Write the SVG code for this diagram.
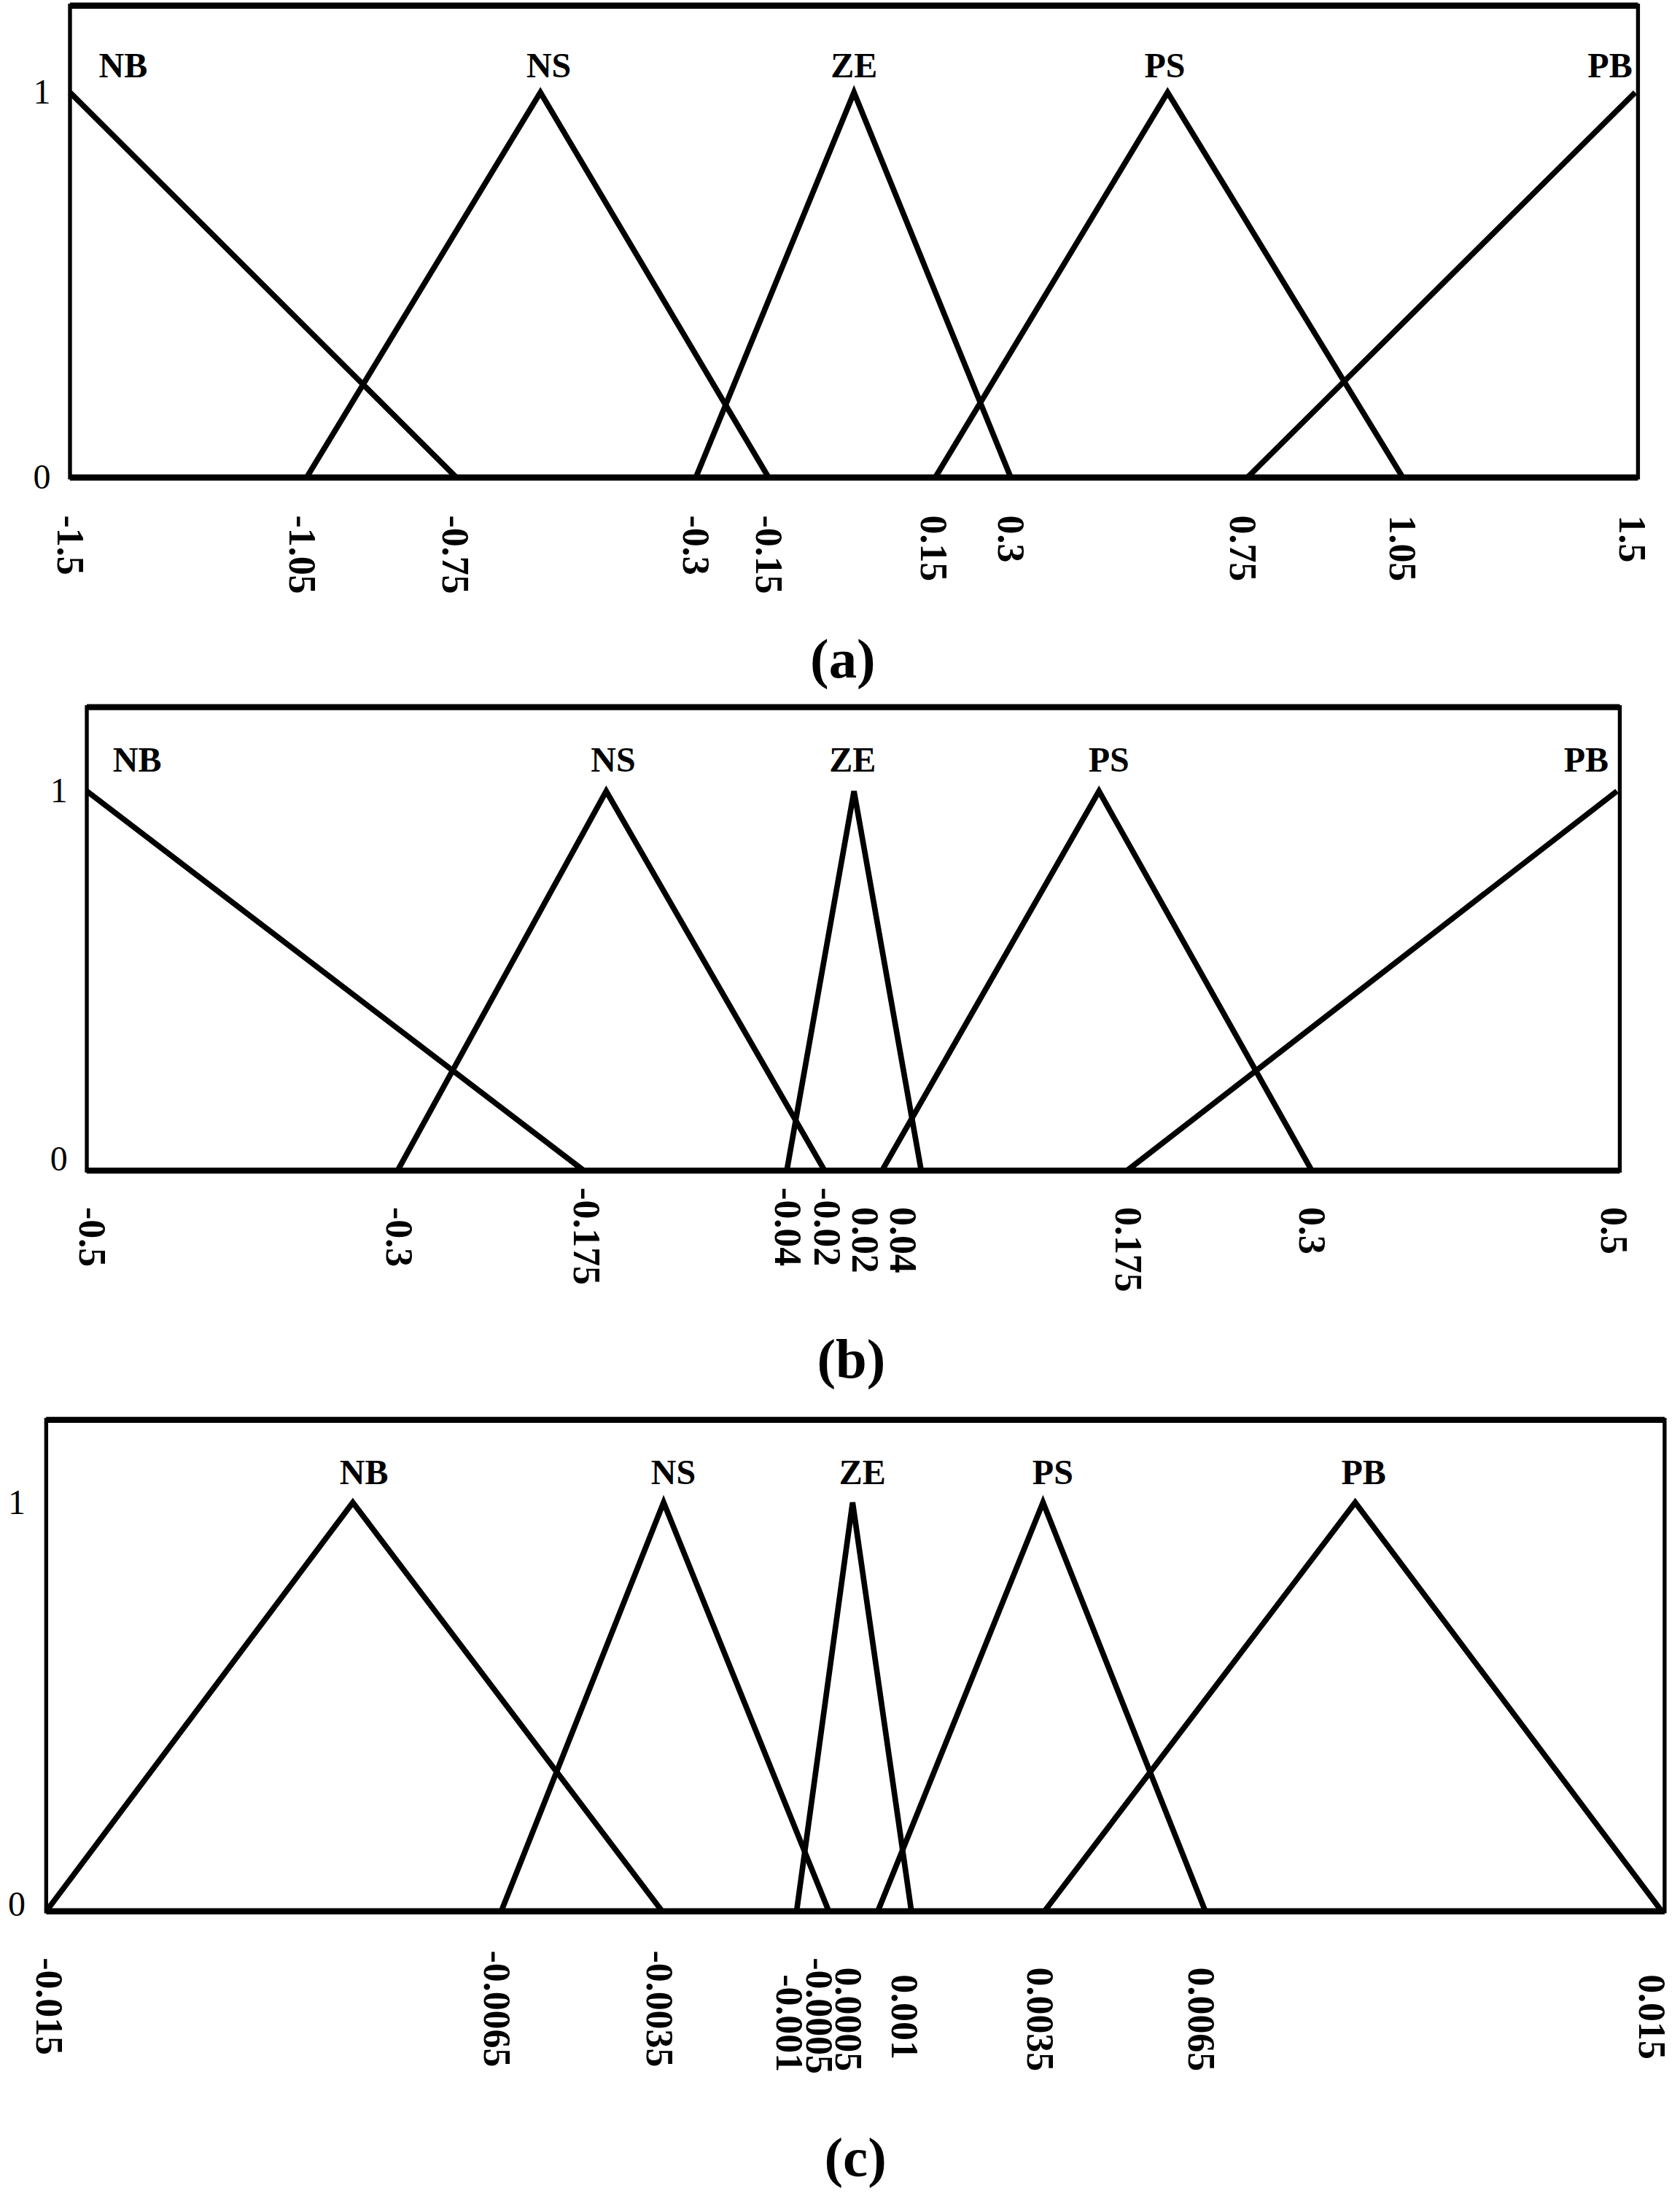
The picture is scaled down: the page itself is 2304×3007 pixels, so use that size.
<svg xmlns="http://www.w3.org/2000/svg" width="2304" height="3007" viewBox="0 0 2304 3007">
<style>
.l{fill:none;stroke:#000;stroke-width:4;stroke-linejoin:miter}
.b{fill:none;stroke:#000;stroke-width:2.8}
.t{stroke:#000;stroke-width:4.4}
.n{font-family:"Liberation Serif",serif;font-weight:bold;font-size:25px;text-anchor:middle}
.a{font-family:"Liberation Serif",serif;font-size:25px;text-anchor:middle}
.k{font-family:"Liberation Serif",serif;font-weight:bold;font-size:27px;dominant-baseline:central}
.c{font-family:"Liberation Serif",serif;font-weight:bold;font-size:40px;text-anchor:middle}
</style>
<rect width="2304" height="3007" fill="#fff"/>
<g transform="scale(1.92)">
<g id="panel-a">
<rect class="b" x="50" y="4" width="1120" height="337"/>
<line class="t" x1="50" y1="4" x2="1170" y2="4"/><line class="t" x1="50" y1="341" x2="1170" y2="341"/>
<text class="a" x="30" y="74">1</text><text class="a" x="30" y="349">0</text>
<g id="a-NB"><polyline class="l" points="50,66 326,341"/><text class="n" x="88" y="55">NB</text></g>
<g id="a-NS"><polyline class="l" points="219,341 386,66 549,341"/><text class="n" x="392" y="55">NS</text></g>
<g id="a-ZE"><polyline class="l" points="497,341 610,66 722,341"/><text class="n" x="610" y="55">ZE</text></g>
<g id="a-PS"><polyline class="l" points="668,341 834,66 1002,341"/><text class="n" x="832" y="55">PS</text></g>
<g id="a-PB"><polyline class="l" points="891,341 1168,66"/><text class="n" x="1150" y="55">PB</text></g>
<g id="a-ticks">
<text class="k" transform="translate(50,368) rotate(90)">-1.5</text>
<text class="k" transform="translate(216,368) rotate(90)">-1.05</text>
<text class="k" transform="translate(325,368) rotate(90)">-0.75</text>
<text class="k" transform="translate(497,368) rotate(90)">-0.3</text>
<text class="k" transform="translate(549,368) rotate(90)">-0.15</text>
<text class="k" transform="translate(667,368) rotate(90)">0.15</text>
<text class="k" transform="translate(722,368) rotate(90)">0.3</text>
<text class="k" transform="translate(888,368) rotate(90)">0.75</text>
<text class="k" transform="translate(1002,368) rotate(90)">1.05</text>
<text class="k" transform="translate(1166,368) rotate(90)">1.5</text>
</g>
<text class="c" x="602" y="484">(a)</text>
</g>
<g id="panel-b">
<rect class="b" x="62" y="505" width="1095" height="331"/>
<line class="t" x1="62" y1="505" x2="1157" y2="505"/><line class="t" x1="62" y1="836" x2="1157" y2="836"/>
<text class="a" x="42" y="573">1</text><text class="a" x="42" y="836">0</text>
<g id="b-NB"><polyline class="l" points="62,565 417,836"/><text class="n" x="98" y="551">NB</text></g>
<g id="b-NS"><polyline class="l" points="284,836 433,565 589,836"/><text class="n" x="438" y="551">NS</text></g>
<g id="b-ZE"><polyline class="l" points="562,836 610,565 658,836"/><text class="n" x="609" y="551">ZE</text></g>
<g id="b-PS"><polyline class="l" points="630,836 785,565 937,836"/><text class="n" x="792" y="551">PS</text></g>
<g id="b-PB"><polyline class="l" points="805,836 1155,565"/><text class="n" x="1133" y="551">PB</text></g>
<g id="b-ticks">
<text class="k" transform="translate(66,862) rotate(90)">-0.5</text>
<text class="k" transform="translate(285,862) rotate(90)">-0.3</text>
<text class="k" transform="translate(419,848) rotate(90)">-0.175</text>
<text class="k" transform="translate(563,848) rotate(90)">-0.04</text>
<text class="k" transform="translate(591,848) rotate(90)">-0.02</text>
<text class="k" transform="translate(618,862) rotate(90)">0.02</text>
<text class="k" transform="translate(645,862) rotate(90)">0.04</text>
<text class="k" transform="translate(806,862) rotate(90)">0.175</text>
<text class="k" transform="translate(937,862) rotate(90)">0.3</text>
<text class="k" transform="translate(1153,862) rotate(90)">0.5</text>
</g>
<text class="c" x="608" y="984">(b)</text>
</g>
<g id="panel-c">
<rect class="b" x="33" y="1014" width="1156" height="351"/>
<line class="t" x1="33" y1="1014" x2="1189" y2="1014"/><line class="t" x1="33" y1="1365" x2="1189" y2="1365"/>
<text class="a" x="12" y="1081">1</text><text class="a" x="12" y="1368">0</text>
<g id="c-NB"><polyline class="l" points="33,1365 252,1073 473,1365"/><text class="n" x="260" y="1060">NB</text></g>
<g id="c-NS"><polyline class="l" points="358,1365 474,1073 592,1365"/><text class="n" x="481" y="1060">NS</text></g>
<g id="c-ZE"><polyline class="l" points="569,1365 609,1073 651,1365"/><text class="n" x="616" y="1060">ZE</text></g>
<g id="c-PS"><polyline class="l" points="627,1365 745,1073 861,1365"/><text class="n" x="752" y="1060">PS</text></g>
<g id="c-PB"><polyline class="l" points="746,1365 968,1073 1187,1365"/><text class="n" x="974" y="1060">PB</text></g>
<g id="c-ticks">
<text class="k" transform="translate(35,1398) rotate(90)">-0.015</text>
<text class="k" transform="translate(355,1393) rotate(90)">-0.0065</text>
<text class="k" transform="translate(471,1393) rotate(90)">-0.0035</text>
<text class="k" transform="translate(564,1410) rotate(90)">-0.001</text>
<text class="k" transform="translate(585,1398) rotate(90)">-0.0005</text>
<text class="k" transform="translate(606,1405) rotate(90)">0.0005</text>
<text class="k" transform="translate(646,1410) rotate(90)">0.001</text>
<text class="k" transform="translate(743,1405) rotate(90)">0.0035</text>
<text class="k" transform="translate(858,1405) rotate(90)">0.0065</text>
<text class="k" transform="translate(1180,1410) rotate(90)">0.015</text>
</g>
<text class="c" x="611" y="1554">(c)</text>
</g>
</g>
</svg>
